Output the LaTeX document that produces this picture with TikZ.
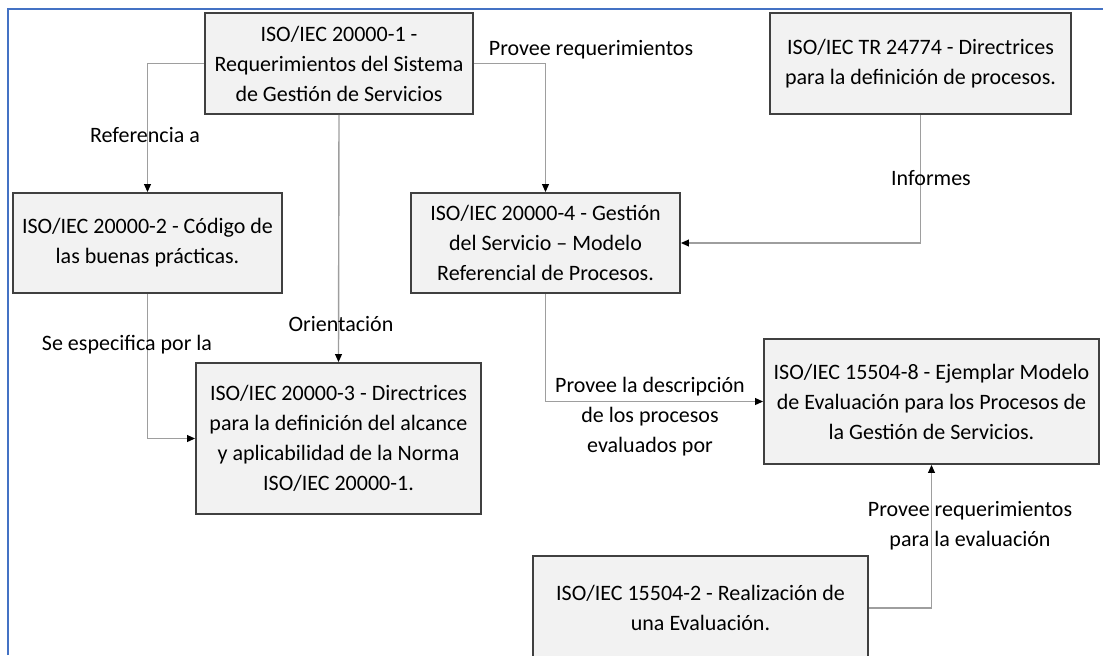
\documentclass[tikz,border=0pt]{standalone}
\usepackage{fontspec}
\setmainfont{Carlito}
\usepackage{xcolor}
\usepackage{tikz}
\usetikzlibrary{arrows.meta,positioning}
\definecolor{marco}{HTML}{4472C4}

\begin{document}
\begin{tikzpicture}[
  x=0.5pt,y=-0.5pt,
  norma/.style={draw=black!75,fill=black!5,rectangle,line width=0.9pt,align=center,inner sep=2pt,font=\fontsize{11}{15}\selectfont},
  etiq/.style={align=center,inner sep=0pt,font=\fontsize{11}{15}\selectfont},
  arr/.style={-{Triangle[length=4pt,width=3.4pt,color=black]},line width=0.7pt,black!38}
]
\useasboundingbox (0,0) rectangle (1103,655);
\clip (0,0) rectangle (1103,655);
\draw[marco,line width=1.1pt] (8,655) -- (8,9) -- (1103,9);

\node[norma,minimum width=134pt,minimum height=50.5pt] (n1) at (339,63.5) {ISO/IEC 20000-1 -\\Requerimientos del Sistema\\de Gestión de Servicios};
\node[norma,minimum width=150.5pt,minimum height=50.5pt] (tr) at (920.5,63.5) {ISO/IEC TR 24774 - Directrices\\para la definición de procesos.};
\node[norma,minimum width=134.5pt,minimum height=50pt] (n2) at (147.5,243) {ISO/IEC 20000-2 - Código de\\las buenas prácticas.};
\node[norma,minimum width=134.5pt,minimum height=50pt] (n4) at (545.5,243) {ISO/IEC 20000-4 - Gestión\\del Servicio -- Modelo\\Referencial de Procesos.};
\node[norma,minimum width=142.5pt,minimum height=75.5pt] (n3) at (338.5,438.5) {ISO/IEC 20000-3 - Directrices\\para la definición del alcance\\y aplicabilidad de la Norma\\ISO/IEC 20000-1.};
\node[norma,minimum width=167.5pt,minimum height=62.5pt] (n8) at (931.5,401.5) {ISO/IEC 15504-8 - Ejemplar Modelo\\de Evaluación para los Procesos de\\la Gestión de Servicios.};
\node[norma,minimum width=167.5pt,minimum height=52pt] (n2b) at (700.5,608) {ISO/IEC 15504-2 - Realización de\\una Evaluación.};

\draw[arr] (n1.west) -| (n2.north);
\draw[arr] (n1.east) -| (n4.north);
\draw[arr] (n1.south) -- (n3.north);
\draw[arr] (n2.south) |- (n3.west);
\draw[arr] (tr.south) |- (n4.east);
\draw[arr] (n4.south) |- (n8.west);
\draw[arr] (n2b.east) -| (n8.south);

\node[etiq] (refa) at (145,135) {Referencia a};
\node[etiq] (provreq) at (591,50) {Provee requerimientos};
\node[etiq] (inf) at (931,178) {Informes};
\node[etiq] (orient) at (341,324) {Orientación};
\node[etiq] (espec) at (127,345) {Se especifica por la};
\node[etiq] (desc) at (650,417) {Provee la descripción\\de los procesos\\evaluados por};
\node[etiq] (proveval) at (970,525.5) {Provee requerimientos\\para la evaluación};

\end{tikzpicture}
\end{document}
